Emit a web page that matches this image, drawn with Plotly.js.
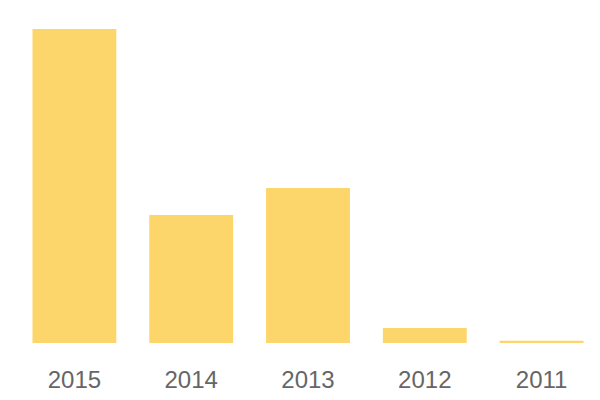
<!DOCTYPE html>
<html><head><meta charset="utf-8">
<script src="https://cdn.plot.ly/plotly-3.0.1.min.js"></script>
<style>html,body{margin:0;padding:0;background:#fff;}#chart{width:600px;height:400px;}</style>
</head><body><div id="chart"></div>
<script>
const years = ['2015', '2014', '2013', '2012', '2011'];
const values = [314, 128, 155, 15, 2.3];
const barColor = '#FDD66B';

Plotly.newPlot('chart', [{
  type: 'bar', x: years, y: values,
  marker: {color: barColor},
  hoverinfo: 'x+y'
}], {
  width: 600, height: 400,
  margin: {l: 16, r: 0, t: 29, b: 57},
  bargap: 0.282,
  paper_bgcolor: '#fff', plot_bgcolor: '#fff',
  xaxis: {type: 'category', showgrid: false, zeroline: false, showline: false, ticks: '',
    tickfont: {family: '"Liberation Sans", Arial, sans-serif', size: 24, color: '#666'}, ticklabelstandoff: 20},
  yaxis: {range: [0, 314], visible: false, showgrid: false, zeroline: false},
  showlegend: false
}, {displayModeBar: false, staticPlot: true});
</script></body></html>
